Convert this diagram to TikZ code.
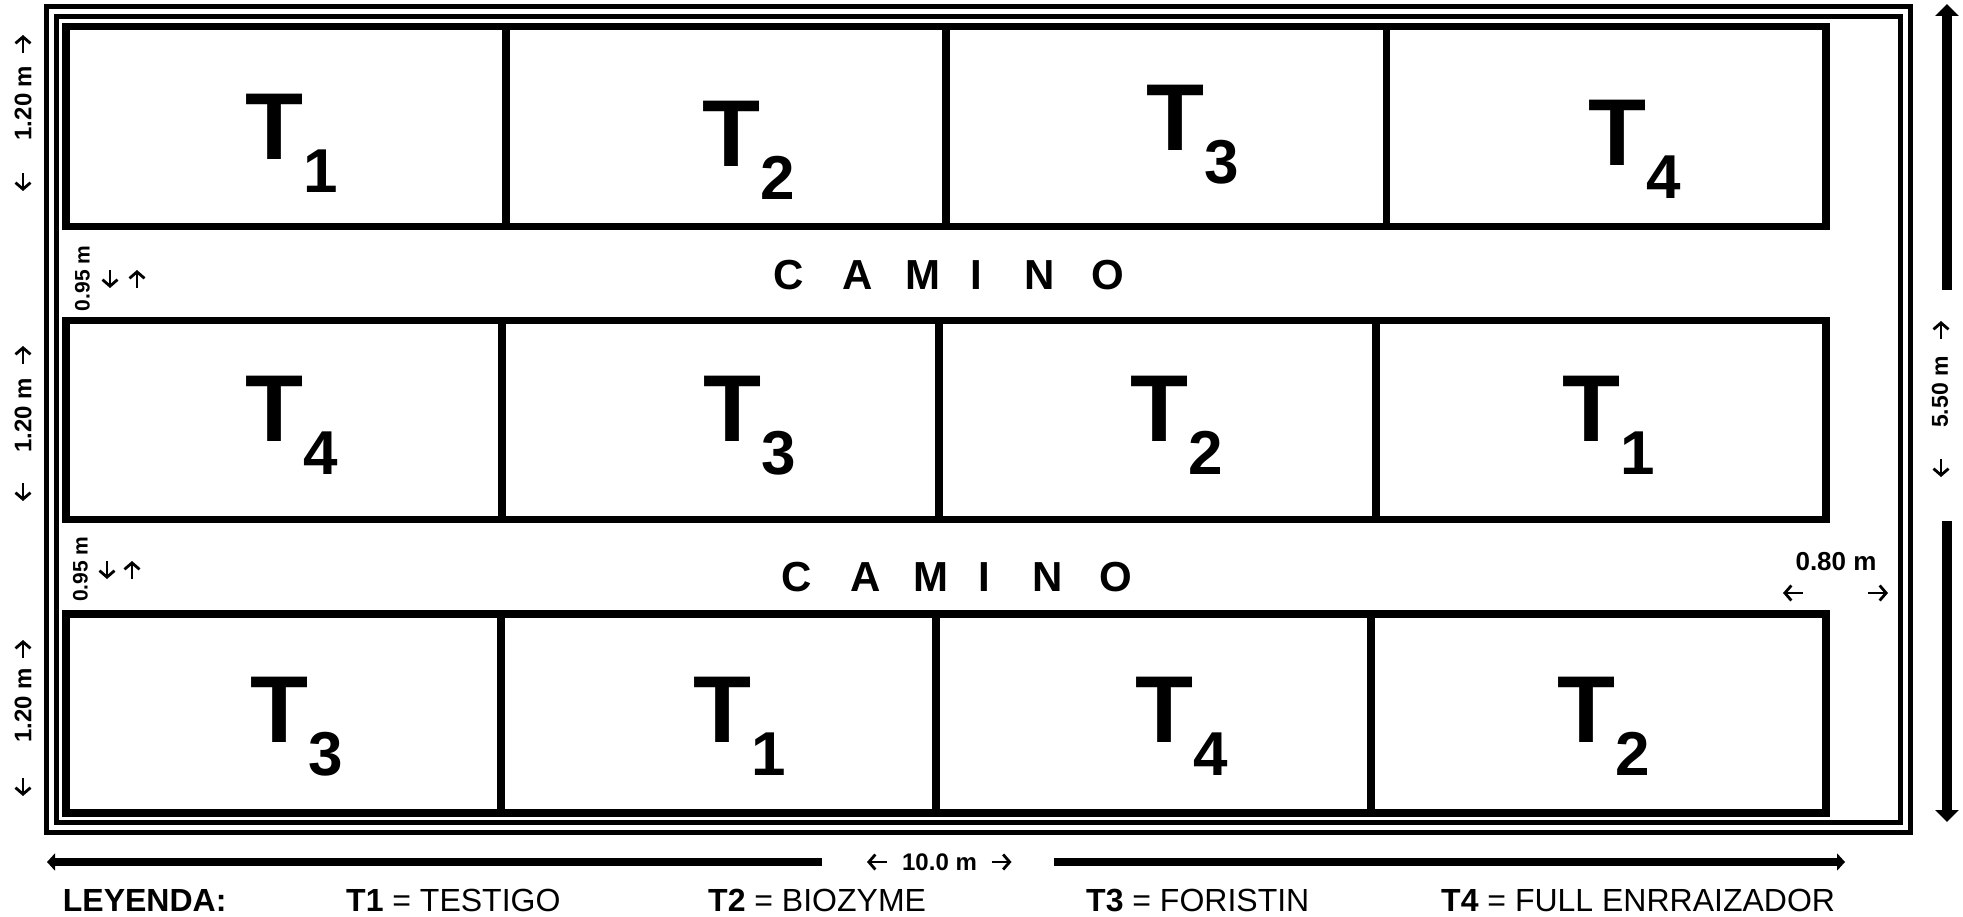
\documentclass[tikz,border=0pt]{standalone}
\usepackage{fontspec}
\setmainfont{Liberation Sans}
\usetikzlibrary{arrows.meta}
\newcommand{\tsub}[1]{\raisebox{-33pt}{\fontsize{62}{62}\selectfont #1}}
\newcommand{\myUp}[1]{\draw[dimarr] ([yshift=-9pt]#1) -- ([yshift=9pt]#1);}
\newcommand{\myDown}[1]{\draw[dimarr] ([yshift=9pt]#1) -- ([yshift=-9pt]#1);}
\newcommand{\myLeft}[1]{\draw[dimarr] ([xshift=10pt]#1) -- ([xshift=-10pt]#1);}
\newcommand{\myRight}[1]{\draw[dimarr] ([xshift=-10pt]#1) -- ([xshift=10pt]#1);}
\begin{document}
\begin{tikzpicture}[x=1pt,y=-1pt,
  frame/.style={draw, line width=5pt},
  cell/.style={draw, line width=7.5pt, inner sep=0pt},
  tlab/.style={anchor=base west, inner sep=0pt, font=\bfseries\fontsize{95}{95}\selectfont},
  camino/.style={anchor=base west, inner sep=0pt, font=\bfseries\fontsize{42}{42}\selectfont},
  dimtext/.style={inner sep=0pt, font=\bfseries\fontsize{#1}{#1}\selectfont},
  dimarr/.style={line width=2.8pt, -{Straight Barb[length=6.5pt,width=15pt]}},
  legend/.style={anchor=base west, inner sep=0pt, font=\fontsize{32}{32}\selectfont},
  bigarrow/.style={line width=10pt, -{Triangle[length=12pt,width=23pt]}},
  hbar/.style={line width=8pt, -{Triangle[length=8pt,width=17pt]}}]
\useasboundingbox (0,0) rectangle (1963,917);
% frames
\draw[frame] (46,7) rectangle (1910.5,832);
\draw[frame] (56,17) rectangle (1900,822);
% row 1
\node[cell, minimum width=440pt, minimum height=200pt] (a1) at (286,126.5) {};
\node[cell, minimum width=440pt, minimum height=200pt] (a2) at (726,126.5) {};
\node[cell, minimum width=440.5pt, minimum height=200pt] (a3) at (1166.25,126.5) {};
\node[cell, minimum width=439.5pt, minimum height=200pt] (a4) at (1606.25,126.5) {};
% row 2
\node[cell, minimum width=436pt, minimum height=199pt] (b1) at (284,420) {};
\node[cell, minimum width=437pt, minimum height=199pt] (b2) at (720.5,420) {};
\node[cell, minimum width=437pt, minimum height=199pt] (b3) at (1157.5,420) {};
\node[cell, minimum width=450pt, minimum height=199pt] (b4) at (1601,420) {};
% row 3
\node[cell, minimum width=435pt, minimum height=199pt] (c1) at (283.5,713.5) {};
\node[cell, minimum width=435pt, minimum height=199pt] (c2) at (718.5,713.5) {};
\node[cell, minimum width=435pt, minimum height=199pt] (c3) at (1153.5,713.5) {};
\node[cell, minimum width=455pt, minimum height=199pt] (c4) at (1598.5,713.5) {};
% treatment labels
\node[tlab] (la1) at (245,160) {T\tsub{1}};
\node[tlab] (la2) at (702,167) {T\tsub{2}};
\node[tlab] (la3) at (1146,151) {T\tsub{3}};
\node[tlab] (la4) at (1588,166) {T\tsub{4}};
\node[tlab] (lb1) at (245,441) {T\tsub{4}};
\node[tlab] (lb2) at (703,441) {T\tsub{3}};
\node[tlab] (lb3) at (1130,441) {T\tsub{2}};
\node[tlab] (lb4) at (1562,441) {T\tsub{1}};
\node[tlab] (lc1) at (250,742) {T\tsub{3}};
\node[tlab] (lc2) at (693,742) {T\tsub{1}};
\node[tlab] (lc3) at (1135,742) {T\tsub{4}};
\node[tlab] (lc4) at (1557,742) {T\tsub{2}};
% CAMINO
\node[camino] (cam1) at (773,290) {C\hspace{38.6pt}A\hspace{32.7pt}M\hspace{30.1pt}I\hspace{42.2pt}N\hspace{37pt}O};
\node[camino] (cam2) at (781,591) {C\hspace{38.6pt}A\hspace{32.7pt}M\hspace{30.1pt}I\hspace{42.2pt}N\hspace{37pt}O};
% 1.20 m dimensions
\node[dimtext=24, rotate=90] (h1) at (23,103) {1.20 m};
\coordinate (h1u) at (23,44); \coordinate (h1d) at (23,182);
\myUp{h1u} \myDown{h1d}
\node[dimtext=24, rotate=90] (h2) at (23,415) {1.20 m};
\coordinate (h2u) at (23,355); \coordinate (h2d) at (23,492);
\myUp{h2u} \myDown{h2d}
\node[dimtext=24, rotate=90] (h3) at (23,705) {1.20 m};
\coordinate (h3u) at (23,649); \coordinate (h3d) at (23,787);
\myUp{h3u} \myDown{h3d}
% 0.95 m
\node[dimtext=21, rotate=90] (g1) at (82.5,278.5) {0.95 m};
\coordinate (g1d) at (110,279); \coordinate (g1u) at (137,279);
\myDown{g1d} \myUp{g1u}
\node[dimtext=21, rotate=90] (g2) at (80.5,569) {0.95 m};
\coordinate (g2d) at (107,570); \coordinate (g2u) at (132,570);
\myDown{g2d} \myUp{g2u}
% 0.80 m
\node[dimtext=26] (w1) at (1836,562) {0.80 m};
\coordinate (w1l) at (1793,593); \coordinate (w1r) at (1878,593);
\myLeft{w1l} \myRight{w1r}
% 5.50 m
\node[dimtext=23, rotate=90] (v1) at (1940,392) {5.50 m};
\coordinate (v1u) at (1941,330); \coordinate (v1d) at (1941,468);
\myUp{v1u} \myDown{v1d}
\coordinate (vu0) at (1947,290); \coordinate (vu1) at (1947,4);
\coordinate (vd0) at (1947,521); \coordinate (vd1) at (1947,822);
\draw[bigarrow] (vu0) -- (vu1);
\draw[bigarrow] (vd0) -- (vd1);
% 10.0 m
\node[dimtext=24] (l1) at (939.5,862) {10.0 m};
\coordinate (l1l) at (877,862); \coordinate (l1r) at (1001.5,862);
\myLeft{l1l} \myRight{l1r}
\coordinate (hl0) at (822,862); \coordinate (hl1) at (47,862);
\coordinate (hr0) at (1054,862); \coordinate (hr1) at (1845,862);
\draw[hbar] (hl0) -- (hl1);
\draw[hbar] (hr0) -- (hr1);
% legend
\node[legend] (ley) at (62.7,911) {\textbf{LEYENDA:}};
\node[legend] (k1) at (346,911) {\textbf{T1} = TESTIGO};
\node[legend] (k2) at (708,911) {\textbf{T2} = BIOZYME};
\node[legend] (k3) at (1086,911) {\textbf{T3} = FORISTIN};
\node[legend] (k4) at (1441,911) {\textbf{T4} = FULL ENRRAIZADOR};
\end{tikzpicture}
\end{document}
